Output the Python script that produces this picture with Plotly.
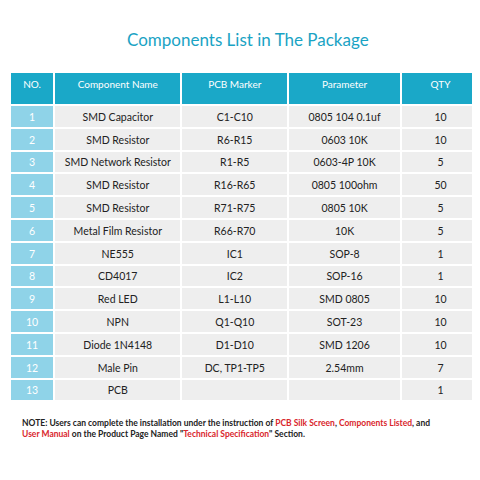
import plotly.graph_objects as go

headers = ["NO.", "Component Name", "PCB Marker", "Parameter", "QTY"]
nos = [str(i) for i in range(1, 14)]
names = ["SMD Capacitor", "SMD Resistor", "SMD Network Resistor", "SMD Resistor", "SMD Resistor",
         "Metal Film Resistor", "NE555", "CD4017", "Red LED", "NPN", "Diode 1N4148", "Male Pin", "PCB"]
markers = ["C1-C10", "R6-R15", "R1-R5", "R16-R65", "R71-R75", "R66-R70", "IC1", "IC2",
           "L1-L10", "Q1-Q10", "D1-D10", "DC, TP1-TP5", ""]
params = ["0805 104 0.1uf", "0603 10K", "0603-4P 10K", "0805 100ohm", "0805 10K", "10K",
          "SOP-8", "SOP-16", "SMD 0805", "SOT-23", "SMD 1206", "2.54mm", ""]
qty = ["10", "10", "5", "50", "5", "5", "1", "1", "10", "10", "10", "7", "1"]

TEAL = "#1aa8c8"
n = len(nos)
fig = go.Figure(go.Table(
    domain=dict(x=[2/480, 472/480], y=[0, 1 - 64/480]),
    columnwidth=[43, 124, 104, 110, 77],
    header=dict(values=headers, fill_color=TEAL, height=33,
                line=dict(color="white", width=2),
                font=dict(color="white", size=10, family="Lato"), align="center"),
    cells=dict(values=[nos, names, markers, params, qty], height=22.8,
               fill_color=[["#8fd3e8"] * n] + [["#eeeeee"] * n] * 4,
               line=dict(color="white", width=2),
               font=dict(color=[["white"] * n] + [["#222222"] * n] * 4, size=10.5, family="Lato"),
               align="center"),
))

red = "#d9262c"
note = ("<b>NOTE: Users can complete the installation under the instruction of "
        f"<span style='color:{red}'>PCB Silk Screen</span>, "
        f"<span style='color:{red}'>Components Listed</span>, and<br>"
        f"<span style='color:{red}'>User Manual</span> on the Product Page Named \""
        f"<span style='color:{red}'>Technical Specification</span>\" Section.</b>")

fig.update_layout(
    width=480, height=480, margin=dict(l=0, r=0, t=0, b=0),
    paper_bgcolor="white", plot_bgcolor="white",
    annotations=[
        dict(text="Components List in The Package", x=0.5, y=1 - 32/480, xref="paper", yref="paper",
             showarrow=False, font=dict(size=17, color="#1aa3c4", family="Lato"), yanchor="middle"),
        dict(text=note, x=12/480, y=1 - 408/480, xref="paper", yref="paper", showarrow=False,
             xanchor="left", yanchor="top", align="left",
             font=dict(size=8.5, color="#222222", family="Lato")),
    ],
)
fig.write_html("out.html")
